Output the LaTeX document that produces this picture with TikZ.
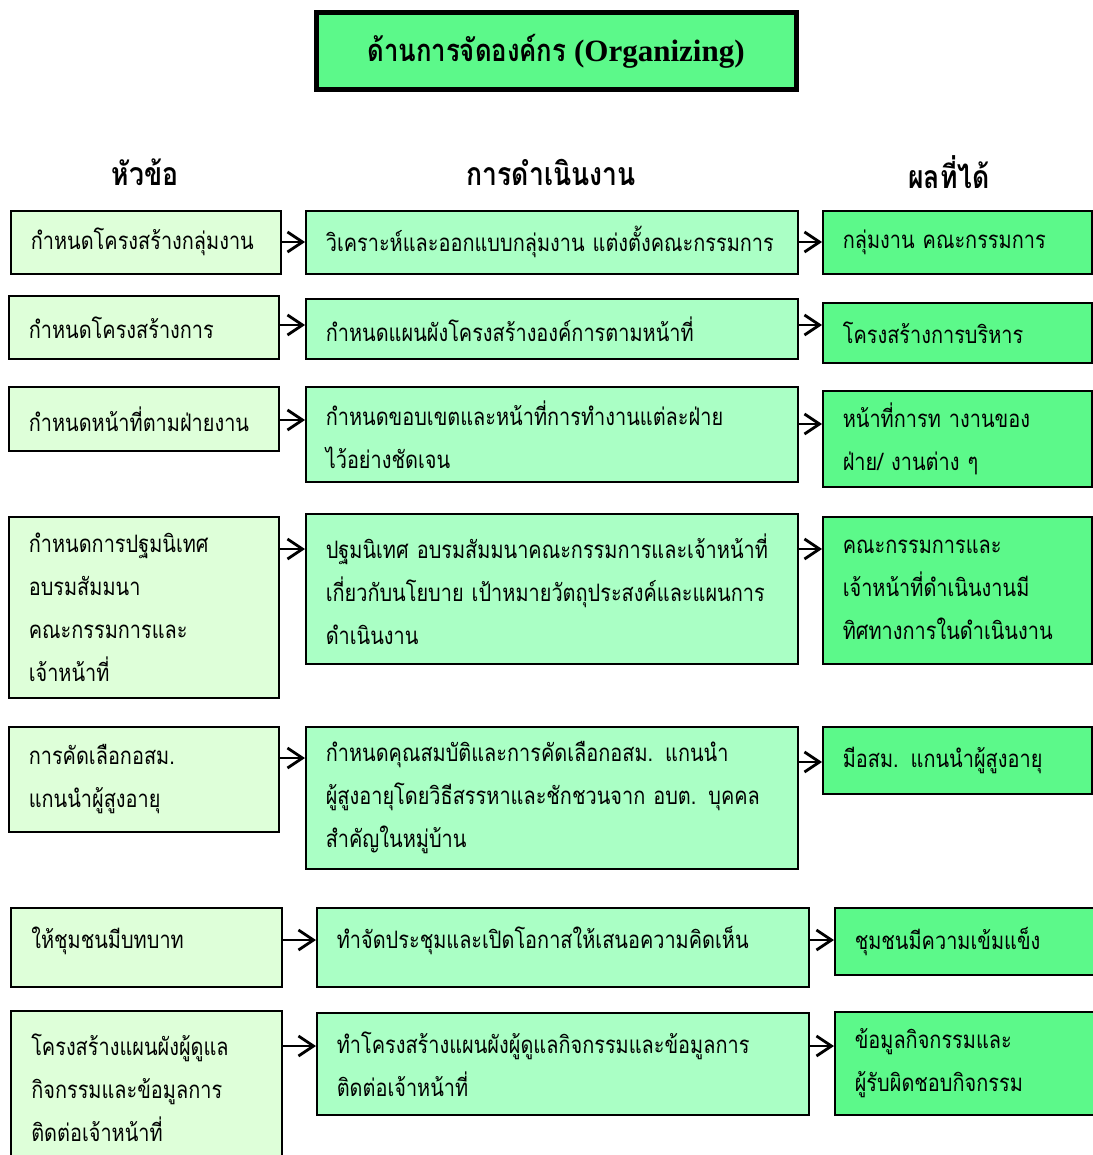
\documentclass[tikz,border=0pt]{standalone}
\usepackage{fontspec}
\setmainfont{Liberation Serif}
\newfontfamily\thaifont[Script=Thai,FakeStretch=0.83]{Loma}
\usepackage{xcolor}
\usetikzlibrary{arrows.meta,positioning}
\definecolor{topicgreen}{HTML}{DEFFD9}
\definecolor{actiongreen}{HTML}{AAFFC5}
\definecolor{resultgreen}{HTML}{5CF98A}

\begin{document}
\begin{tikzpicture}[x=1pt,y=-1pt,
    cell/.style={draw, line width=1.6pt, anchor=north west, align=left, inner xsep=20pt, inner ysep=0pt,
      font=\thaifont\fontsize{24}{43}\selectfont},
    topic/.style={cell, fill=topicgreen, minimum width=270pt, text width=230pt},
    action/.style={cell, fill=actiongreen, minimum width=492pt, text width=452pt},
    result/.style={cell, fill=resultgreen, minimum width=269pt, text width=229pt},
    head/.style={font=\thaifont\bfseries\fontsize{32}{38}\selectfont},
    arr/.style={line width=2.8pt, -{Straight Barb[length=15pt,width=20pt]}}]
    \useasboundingbox (0,0) rectangle (1092,1155);

    % title and column heads
    \node[draw, line width=5pt, fill=resultgreen, minimum width=480pt, minimum height=77pt,
      font=\fontsize{31}{36}\selectfont] (title) at (556,51)
      {{\thaifont\bfseries ด้านการจัดองค์กร} \textbf{(Organizing)}};
    \node[head] (hTopic) at (145,172) {หัวข้อ};
    \node[head] (hAction) at (551,172) {การดำเนินงาน};
    \node[head] (hResult) at (949,172) {ผลที่ได้};

    % topics
    \node[topic, minimum height=63pt] (t1) at (10,210) {กำหนดโครงสร้างกลุ่มงาน};
    \node[topic, minimum height=63pt] (t2) at (8,295) {กำหนดโครงสร้างการ};
    \node[topic, minimum height=64pt] (t3) at (8,386) {กำหนดหน้าที่ตามฝ่ายงาน};
    \node[topic, minimum height=181pt] (t4) at (8,516) {กำหนดการปฐมนิเทศ\\อบรมสัมมนา\\คณะกรรมการและ\\เจ้าหน้าที่};
    \node[topic, minimum height=105pt] (t5) at (8,726) {การคัดเลือกอสม.\\แกนนำผู้สูงอายุ};
    \node[topic, minimum width=271pt, minimum height=79pt, text depth=19pt] (t6) at (10,907) {ให้ชุมชนมีบทบาท};
    \node[topic, minimum width=271pt, minimum height=154pt] (t7) at (10,1010) {โครงสร้างแผนผังผู้ดูแล\\กิจกรรมและข้อมูลการ\\ติดต่อเจ้าหน้าที่};

    % actions
    \node[action, minimum height=63pt] (a1) at (305,210) {วิเคราะห์และออกแบบกลุ่มงาน แต่งตั้งคณะกรรมการ};
    \node[action, minimum height=60pt] (a2) at (305,298) {กำหนดแผนผังโครงสร้างองค์การตามหน้าที่};
    \node[action, minimum width=490pt, minimum height=95pt] (a3) at (305,386) {กำหนดขอบเขตและหน้าที่การทำงานแต่ละฝ่าย\\ไว้อย่างชัดเจน};
    \node[action, minimum height=150pt] (a4) at (305,513) {ปฐมนิเทศ อบรมสัมมนาคณะกรรมการและเจ้าหน้าที่\\เกี่ยวกับนโยบาย เป้าหมายวัตถุประสงค์และแผนการ\\ดำเนินงาน};
    \node[action, minimum width=490pt, minimum height=142pt] (a5) at (305,726) {กำหนดคุณสมบัติและการคัดเลือกอสม. แกนนำ\\ผู้สูงอายุโดยวิธีสรรหาและชักชวนจาก อบต. บุคคล\\สำคัญในหมู่บ้าน};
    \node[action, minimum width=489pt, minimum height=79pt, text depth=19pt] (a6) at (316,907) {ทำจัดประชุมและเปิดโอกาสให้เสนอความคิดเห็น};
    \node[action, minimum width=489pt, minimum height=102pt] (a7) at (316,1012) {ทำโครงสร้างแผนผังผู้ดูแลกิจกรรมและข้อมูลการ\\ติดต่อเจ้าหน้าที่};

    % results
    \node[result, minimum height=63pt] (r1) at (822,210) {กลุ่มงาน คณะกรรมการ};
    \node[result, minimum height=60pt] (r2) at (822,302) {โครงสร้างการบริหาร};
    \node[result, minimum height=96pt] (r3) at (822,390) {หน้าที่การท างานของ\\ฝ่าย/ งานต่าง ๆ};
    \node[result, minimum height=147pt] (r4) at (822,516) {คณะกรรมการและ\\เจ้าหน้าที่ดำเนินงานมี\\ทิศทางการในดำเนินงาน};
    \node[result, minimum height=67pt] (r5) at (822,726) {มีอสม. แกนนำผู้สูงอายุ};
    \node[result, minimum width=257pt, minimum height=67pt] (r6) at (834,907) {ชุมชนมีความเข้มแข็ง};
    \node[result, minimum width=257pt, minimum height=103pt] (r7) at (834,1011) {ข้อมูลกิจกรรมและ\\ผู้รับผิดชอบกิจกรรม};

    % arrows at the first text line of each row
    \foreach \i/\ya/\yb in {1/242/242,2/325/325,3/420/424,4/549/549,5/758/762,6/940/940,7/1046/1046}{
        \draw[arr] (t\i.east |- 0,\ya) -- (a\i.west |- 0,\ya);
        \draw[arr] (a\i.east |- 0,\yb) -- (r\i.west |- 0,\yb);
    }
\end{tikzpicture}
\end{document}
